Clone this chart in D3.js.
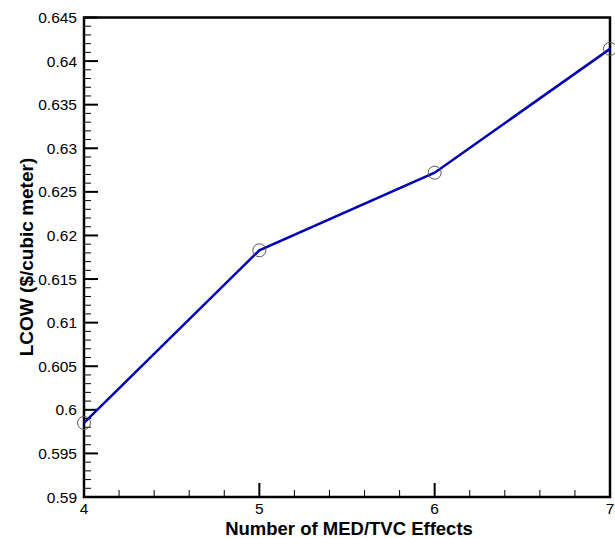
<!DOCTYPE html>
<html><head><meta charset="utf-8">
<script src="https://cdn.jsdelivr.net/npm/d3@7"></script>
<style>body{margin:0;background:#fff}svg{display:block}</style>
</head><body>
<script>
const effects = [4, 5, 6, 7];
const lcow = [0.5985, 0.6183, 0.6272, 0.6414];
const yTicks = [0.59, 0.595, 0.6, 0.605, 0.61, 0.615, 0.62, 0.625, 0.63, 0.635, 0.64, 0.645];
const xTicks = [4, 5, 6, 7];
const xLabel = "Number of MED/TVC Effects";
const yLabel = "LCOW ($/cubic meter)";

const W = 615, H = 538;
const m = {l: 84, r: 5, t: 17.5, b: 41};
const svg = d3.select("body").append("svg").attr("width", W).attr("height", H);
const x = d3.scaleLinear().domain([4, 7]).range([m.l, W - m.r]);
const y = d3.scaleLinear().domain([0.59, 0.645]).range([H - m.b, m.t]);
const font = "Liberation Sans, Arial, sans-serif";

// minor ticks
const yMinor = d3.range(0.59, 0.6451, 0.001).filter(v => Math.abs(Math.round(v / 0.005) * 0.005 - v) > 1e-6);
const xMinor = d3.range(4, 7.001, 0.2).filter(v => Math.abs(Math.round(v) - v) > 1e-6);

const g = svg.append("g");
g.selectAll(".ymin").data(yMinor).join("line")
  .attr("x1", m.l).attr("x2", m.l + 7).attr("y1", d => y(d)).attr("y2", d => y(d))
  .attr("stroke", "#000").attr("stroke-width", 1);
g.selectAll(".ymaj").data(yTicks).join("line")
  .attr("x1", m.l).attr("x2", m.l + 14).attr("y1", d => y(d)).attr("y2", d => y(d))
  .attr("stroke", "#000").attr("stroke-width", 2);
g.selectAll(".xmin").data(xMinor).join("line")
  .attr("y1", H - m.b).attr("y2", H - m.b - 7).attr("x1", d => x(d)).attr("x2", d => x(d))
  .attr("stroke", "#000").attr("stroke-width", 1);
g.selectAll(".xmaj").data(xTicks).join("line")
  .attr("y1", H - m.b).attr("y2", H - m.b - 14).attr("x1", d => x(d)).attr("x2", d => x(d))
  .attr("stroke", "#000").attr("stroke-width", 2);

// frame
svg.append("rect").attr("x", m.l).attr("y", m.t).attr("width", W - m.r - m.l).attr("height", H - m.b - m.t)
  .attr("fill", "none").attr("stroke", "#000").attr("stroke-width", 2.5);

// tick labels
svg.selectAll(".yl").data(yTicks).join("text")
  .attr("x", m.l - 7).attr("y", d => y(d) + 5.5).attr("text-anchor", "end")
  .attr("font-family", font).attr("font-size", 15.5).text(d => d3.format("")(+d.toFixed(3)));
svg.selectAll(".xl").data(xTicks).join("text")
  .attr("x", d => x(d)).attr("y", H - m.b + 17).attr("text-anchor", "middle")
  .attr("font-family", font).attr("font-size", 15.5).text(d => d);

// titles
svg.append("text").attr("x", 349).attr("y", H - 3).attr("text-anchor", "middle")
  .attr("font-family", font).attr("font-size", 18.5).attr("font-weight", "bold").text(xLabel);
svg.append("text").attr("transform", `translate(33,257) rotate(-90)`)
  .attr("text-anchor", "middle")
  .attr("font-family", font).attr("font-size", 19).attr("font-weight", "bold").text(yLabel);

// line
const pts = effects.map((e, i) => [e, lcow[i]]);
svg.append("path").datum(pts)
  .attr("d", d3.line().x(d => x(d[0])).y(d => y(d[1])))
  .attr("fill", "none").attr("stroke", "#0000b4").attr("stroke-width", 2.5);
svg.selectAll(".pt").data(pts).join("circle")
  .attr("cx", d => x(d[0])).attr("cy", d => y(d[1])).attr("r", 6.5)
  .attr("fill", "none").attr("stroke", "#555").attr("stroke-width", 1);
</script>
</body></html>
